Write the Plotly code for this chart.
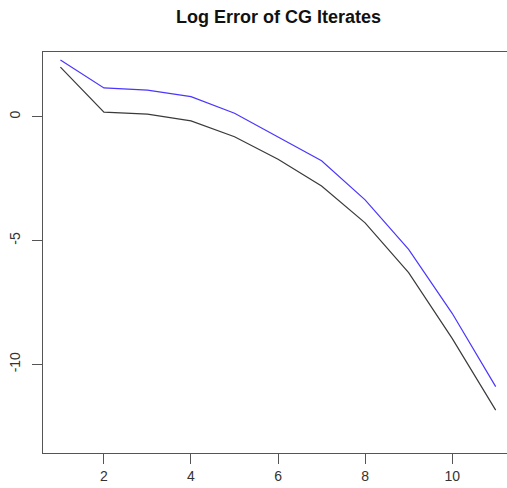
import plotly.graph_objects as go

# CG iteration index and log error of the iterates
iterations = [1, 2, 3, 4, 5, 6, 7, 8, 9, 10, 11]
log_err_a = [2.29, 1.16, 1.07, 0.81, 0.14, -0.81, -1.78, -3.36, -5.36, -7.94, -10.90]
log_err_b = [2.00, 0.18, 0.10, -0.17, -0.81, -1.72, -2.80, -4.29, -6.30, -8.95, -11.85]

x_ticks = [2, 4, 6, 8, 10]
y_ticks = [0, -5, -10]

fig = go.Figure()
fig.add_trace(go.Scatter(x=iterations, y=log_err_b, mode="lines",
                         line=dict(color="#3a3a3a", width=1.2)))
fig.add_trace(go.Scatter(x=iterations, y=log_err_a, mode="lines",
                         line=dict(color="#4a36ff", width=1.2)))

axis_font = dict(family="Liberation Sans, Arial, sans-serif", size=14, color="#333333")

fig.update_layout(
    width=507, height=488,
    margin=dict(l=43, r=0, t=52, b=35),
    paper_bgcolor="white", plot_bgcolor="white",
    showlegend=False,
    xaxis=dict(range=[0.6, 11.26], tickvals=x_ticks, ticktext=[str(v) for v in x_ticks],
               showgrid=False, zeroline=False, showline=True, mirror=True,
               linecolor="#555555", linewidth=1.2,
               ticks="outside", ticklen=10, tickcolor="#555555", tickwidth=1.2,
               tickfont=axis_font, ticklabelstandoff=0),
    yaxis=dict(range=[-13.58, 2.61], tickvals=y_ticks, ticktext=[str(v) for v in y_ticks],
               showgrid=False, zeroline=False, showline=True, mirror=False,
               linecolor="#555555", linewidth=1.2,
               ticks="outside", ticklen=10, tickcolor="#555555", tickwidth=1.2,
               tickangle=-90, tickfont=axis_font, ticklabelstandoff=6),
    annotations=[dict(text="<b>Log Error of CG Iterates</b>", xref="paper", yref="paper",
                      x=(278 - 43) / 464, y=1, yshift=35, showarrow=False,
                      xanchor="center", yanchor="middle",
                      font=dict(family="Liberation Sans, Arial, sans-serif", size=18,
                                color="#111111"))],
)

fig.write_html("out.html")
